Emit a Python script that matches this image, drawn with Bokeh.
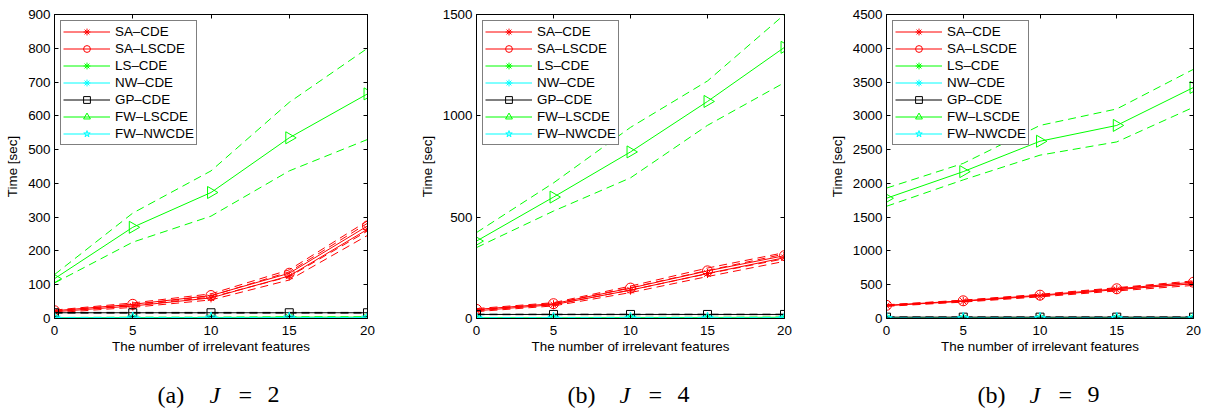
import math
from bokeh.plotting import figure
from bokeh.layouts import row, column
from bokeh.models import (Legend, LegendItem, LinearAxis, Label, Range1d,
                          CustomJSTickFormatter)
from bokeh.embed import file_html
from bokeh.resources import INLINE

features = [0, 5, 10, 15, 20]
series_names = ["SA–CDE", "SA–LSCDE", "LS–CDE", "NW–CDE", "GP–CDE", "FW–LSCDE", "FW–NWCDE"]

# ---------------- J = 2 ----------------
j2_sa_cde      = [20, 37, 61, 126, 264]
j2_sa_cde_lo   = [17, 33, 55, 114, 246]
j2_sa_cde_hi   = [23, 41, 67, 138, 282]
j2_sa_lscde    = [23, 42, 68, 134, 274]
j2_sa_lscde_lo = [21, 38, 63, 124, 259]
j2_sa_lscde_hi = [25, 46, 73, 144, 289]
j2_ls_cde      = [2, 3, 3, 4, 4]
j2_ls_cde_lo   = [1, 2, 2, 3, 3]
j2_ls_cde_hi   = [3, 4, 4, 5, 5]
j2_nw_cde      = [0.5, 0.5, 0.5, 0.6, 0.6]
j2_nw_cde_lo   = [0.3, 0.3, 0.3, 0.4, 0.4]
j2_nw_cde_hi   = [0.7, 0.7, 0.7, 0.8, 0.8]
j2_gp_cde      = [17, 17, 17, 17, 17]
j2_gp_cde_lo   = [16, 16, 16, 16, 16]
j2_gp_cde_hi   = [18, 18, 18, 18, 18]
j2_fw_lscde    = [118, 270, 373, 535, 665]
j2_fw_lscde_lo = [105, 226, 303, 437, 530]
j2_fw_lscde_hi = [130, 312, 437, 640, 800]
j2_fw_nwcde    = [1.5, 1.5, 1.6, 1.6, 1.7]
j2_fw_nwcde_lo = [1.0, 1.0, 1.1, 1.1, 1.2]
j2_fw_nwcde_hi = [2.0, 2.0, 2.1, 2.1, 2.2]

# ---------------- J = 4 ----------------
j4_sa_cde      = [38, 68, 140, 222, 300]
j4_sa_cde_lo   = [34, 62, 128, 207, 282]
j4_sa_cde_hi   = [42, 74, 152, 237, 318]
j4_sa_lscde    = [45, 73, 150, 235, 310]
j4_sa_lscde_lo = [41, 68, 140, 221, 295]
j4_sa_lscde_hi = [49, 78, 160, 249, 325]
j4_ls_cde      = [4, 4, 5, 5, 6]
j4_ls_cde_lo   = [3, 3, 4, 4, 5]
j4_ls_cde_hi   = [5, 5, 6, 6, 7]
j4_nw_cde      = [0.5, 0.5, 0.6, 0.6, 0.7]
j4_nw_cde_lo   = [0.3, 0.3, 0.4, 0.4, 0.5]
j4_nw_cde_hi   = [0.7, 0.7, 0.8, 0.8, 0.9]
j4_gp_cde      = [20, 20, 20, 20, 20]
j4_gp_cde_lo   = [19, 19, 19, 19, 19]
j4_gp_cde_hi   = [21, 21, 21, 21, 21]
j4_fw_lscde    = [382, 599, 822, 1071, 1338]
j4_fw_lscde_lo = [350, 530, 694, 953, 1164]
j4_fw_lscde_hi = [424, 669, 943, 1172, 1500]
j4_fw_nwcde    = [2, 2, 2, 2, 2]
j4_fw_nwcde_lo = [1.5, 1.5, 1.5, 1.5, 1.5]
j4_fw_nwcde_hi = [2.5, 2.5, 2.5, 2.5, 2.5]

# ---------------- J = 9 ----------------
j9_sa_cde      = [190, 255, 335, 428, 515]
j9_sa_cde_lo   = [180, 243, 320, 408, 490]
j9_sa_cde_hi   = [200, 267, 350, 448, 540]
j9_sa_lscde    = [195, 262, 345, 440, 537]
j9_sa_lscde_lo = [187, 252, 331, 424, 517]
j9_sa_lscde_hi = [203, 272, 359, 456, 557]
j9_ls_cde      = [8, 8, 9, 9, 10]
j9_ls_cde_lo   = [6, 6, 7, 7, 8]
j9_ls_cde_hi   = [10, 10, 11, 11, 12]
j9_nw_cde      = [1, 1, 1, 1, 1]
j9_nw_cde_lo   = [0.7, 0.7, 0.7, 0.7, 0.7]
j9_nw_cde_hi   = [1.3, 1.3, 1.3, 1.3, 1.3]
j9_gp_cde      = [20, 20, 20, 20, 20]
j9_gp_cde_lo   = [18, 18, 18, 18, 18]
j9_gp_cde_hi   = [22, 22, 22, 22, 22]
j9_fw_lscde    = [1780, 2174, 2624, 2858, 3420]
j9_fw_lscde_lo = [1661, 2052, 2418, 2614, 3127]
j9_fw_lscde_hi = [1930, 2296, 2858, 3102, 3689]
j9_fw_nwcde    = [3, 3, 3, 3, 3]
j9_fw_nwcde_lo = [2, 2, 2, 2, 2]
j9_fw_nwcde_hi = [4, 4, 4, 4, 4]

y_ticks_j2 = [0, 100, 200, 300, 400, 500, 600, 700, 800, 900]
y_ticks_j4 = [0, 500, 1000, 1500]
y_ticks_j9 = [0, 500, 1000, 1500, 2000, 2500, 3000, 3500, 4000, 4500]

RED, GREEN, CYAN, BLACK = "#ff0000", "#00ff00", "#00ffff", "#000000"
styles = [
    (RED, "asterisk", 9, 0.0),
    (RED, "circle", 10, 0.0),
    (GREEN, "asterisk", 9, 0.0),
    (CYAN, "asterisk", 9, 0.0),
    (BLACK, "square", 8, 0.0),
    (GREEN, "triangle", 12, -math.pi / 2),
    (CYAN, "star", 12, 0.0),
]

FONT = "Liberation Sans"
FS = "13.4px"
empty_fmt = "return ''"

MAIN_H = 361
CAP_H = 411 - MAIN_H


def make_panel(series, y_end, y_ticks, borders):
    left, right, top, bottom = borders
    p = figure(width=403, height=MAIN_H, output_backend="svg", toolbar_location=None,
               x_range=Range1d(0, 20), y_range=Range1d(0, y_end),
               min_border_left=left, min_border_right=right,
               min_border_top=top, min_border_bottom=bottom)
    p.xgrid.visible = False
    p.ygrid.visible = False
    p.outline_line_color = "black"
    p.background_fill_color = "white"
    p.border_fill_color = "white"

    p.xaxis.ticker = features
    p.yaxis.ticker = y_ticks
    p.xaxis.axis_label = "The number of irrelevant features"
    p.yaxis.axis_label = "Time [sec]"
    for ax in (p.xaxis[0], p.yaxis[0]):
        ax.major_tick_in = 4
        ax.major_tick_out = 0
        ax.minor_tick_line_color = None
        ax.axis_line_color = "black"
        ax.major_tick_line_color = "black"
        ax.major_label_text_font = FONT
        ax.major_label_text_font_size = FS
        ax.major_label_text_color = "black"
        ax.axis_label_text_font = FONT
        ax.axis_label_text_font_size = FS
        ax.axis_label_text_font_style = "normal"
        ax.axis_label_text_color = "black"
    p.yaxis.major_label_standoff = 4
    p.xaxis.major_label_standoff = 7
    p.yaxis.axis_label_standoff = 5
    p.xaxis.axis_label_standoff = 1

    top_ax = LinearAxis(ticker=features, formatter=CustomJSTickFormatter(code=empty_fmt),
                        major_tick_in=4, major_tick_out=0, minor_tick_line_color=None,
                        major_label_standoff=0, major_label_text_font_size="1px",
                        axis_line_color="black", major_tick_line_color="black")
    p.add_layout(top_ax, "above")
    right_ax = LinearAxis(ticker=y_ticks, formatter=CustomJSTickFormatter(code=empty_fmt),
                          major_tick_in=4, major_tick_out=0, minor_tick_line_color=None,
                          major_label_standoff=0, major_label_text_font_size="1px",
                          axis_line_color="black", major_tick_line_color="black")
    p.add_layout(right_ax, "right")

    items = []
    for name, (mean, lo, hi), (color, marker, size, angle) in zip(series_names, series, styles):
        p.line(features, lo, line_color=color, line_width=1, line_dash="8 5")
        p.line(features, hi, line_color=color, line_width=1, line_dash="8 5")
        ln = p.line(features, mean, line_color=color, line_width=1)
        sc = p.scatter(features, mean, marker=marker, size=size, angle=angle,
                       line_color=color, fill_color=None, line_width=1)
        items.append(LegendItem(label=name, renderers=[ln, sc]))

    legend = Legend(items=items, location="top_left", margin=6, padding=2,
                    spacing=0, glyph_width=47, glyph_height=17,
                    label_height=17, label_standoff=5,
                    label_text_font=FONT, label_text_font_size=FS,
                    label_text_color="black",
                    border_line_color="black", border_line_width=1,
                    background_fill_color="white", background_fill_alpha=1.0)
    p.add_layout(legend)
    return p


def make_caption(letter, jnum, x0):
    c = figure(width=403, height=CAP_H, output_backend="svg", toolbar_location=None,
               x_range=Range1d(0, 403), y_range=Range1d(0, CAP_H),
               min_border=0, x_axis_location=None, y_axis_location=None)
    c.xgrid.visible = False
    c.ygrid.visible = False
    c.outline_line_color = None
    base_y = CAP_H - (394 - MAIN_H)
    pieces = [(letter, "normal", x0), ("J", "italic", x0 + 52),
              ("=", "normal", x0 + 81), (jnum, "normal", x0 + 110)]
    for txt, style, xs in pieces:
        c.add_layout(Label(x=xs, y=base_y, text=txt,
                           text_font="Liberation Serif", text_font_size="24px",
                           text_font_style=style, text_color="black",
                           text_align="left", text_baseline="alphabetic"))
    return c


s2 = [(j2_sa_cde, j2_sa_cde_lo, j2_sa_cde_hi), (j2_sa_lscde, j2_sa_lscde_lo, j2_sa_lscde_hi),
      (j2_ls_cde, j2_ls_cde_lo, j2_ls_cde_hi), (j2_nw_cde, j2_nw_cde_lo, j2_nw_cde_hi),
      (j2_gp_cde, j2_gp_cde_lo, j2_gp_cde_hi), (j2_fw_lscde, j2_fw_lscde_lo, j2_fw_lscde_hi),
      (j2_fw_nwcde, j2_fw_nwcde_lo, j2_fw_nwcde_hi)]
s4 = [(j4_sa_cde, j4_sa_cde_lo, j4_sa_cde_hi), (j4_sa_lscde, j4_sa_lscde_lo, j4_sa_lscde_hi),
      (j4_ls_cde, j4_ls_cde_lo, j4_ls_cde_hi), (j4_nw_cde, j4_nw_cde_lo, j4_nw_cde_hi),
      (j4_gp_cde, j4_gp_cde_lo, j4_gp_cde_hi), (j4_fw_lscde, j4_fw_lscde_lo, j4_fw_lscde_hi),
      (j4_fw_nwcde, j4_fw_nwcde_lo, j4_fw_nwcde_hi)]
s9 = [(j9_sa_cde, j9_sa_cde_lo, j9_sa_cde_hi), (j9_sa_lscde, j9_sa_lscde_lo, j9_sa_lscde_hi),
      (j9_ls_cde, j9_ls_cde_lo, j9_ls_cde_hi), (j9_nw_cde, j9_nw_cde_lo, j9_nw_cde_hi),
      (j9_gp_cde, j9_gp_cde_lo, j9_gp_cde_hi), (j9_fw_lscde, j9_fw_lscde_lo, j9_fw_lscde_hi),
      (j9_fw_nwcde, j9_fw_nwcde_lo, j9_fw_nwcde_hi)]

p1 = make_panel(s2, 900, y_ticks_j2, (54, 36, 7, MAIN_H - 318))
p2 = make_panel(s4, 1500, y_ticks_j4, (73, 22, 14, MAIN_H - 320))
p3 = make_panel(s9, 4500, y_ticks_j9, (80, 16, 14, MAIN_H - 320))

c1 = make_caption("(a)", "2", 157)
c2 = make_caption("(b)", "4", 164)
c3 = make_caption("(b)", "9", 171)

layout = column(row(p1, p2, p3, spacing=0), row(c1, c2, c3, spacing=0), spacing=0)
open("out.html", "w").write(file_html(layout, INLINE))
